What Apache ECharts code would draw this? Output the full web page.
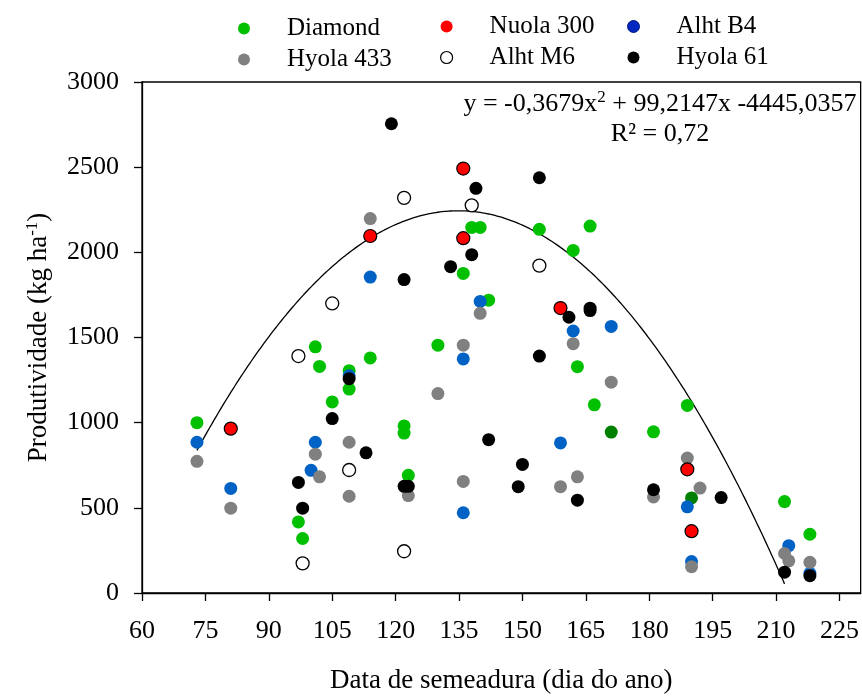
<!DOCTYPE html>
<html>
<head>
<meta charset="utf-8">
<script src="https://cdn.jsdelivr.net/npm/echarts@6/dist/echarts.min.js"></script>
<style>
  html, body { margin: 0; padding: 0; background: #fff; }
  #chart { width: 862px; height: 699px; }
</style>
</head>
<body>
<div id="chart"></div>
<script>
// Sowing date (day of year) vs. grain yield (kg/ha), one list of [day, yield] per cultivar
const diamond = [
  [73, 1000], [97, 417], [98, 320], [101, 1445], [102, 1330], [105, 1122],
  [109, 1305], [109, 1197], [114, 1380], [122, 981], [122, 939], [123, 691],
  [130, 1455], [136, 1876], [138, 2146], [140, 2146], [142, 1719], [154, 2135],
  [162, 2011], [163, 1329], [166, 2154], [167, 1105], [181, 946], [189, 1101],
  [212, 537], [218, 345]
];
// Diamond points printed in a darker green
const diamondDarkShade = [[171, 945], [190, 558]];
const nuola300 = [
  [81, 965], [114, 2096], [136, 2492], [136, 2083], [159, 1673], [189, 726], [190, 363]
];
const alhtB4 = [
  [73, 885], [81, 614], [100, 720], [101, 885], [109, 1275], [114, 1855],
  [136, 1374], [136, 471], [140, 1712], [159, 881], [162, 1538], [171, 1565],
  [189, 506], [190, 185], [213, 278], [218, 116]
];
const hyola433 = [
  [73, 773], [81, 498], [101, 815], [102, 682], [109, 885], [109, 568],
  [114, 2198], [123, 572], [130, 1171], [136, 1455], [136, 655], [140, 1642],
  [159, 624], [162, 1464], [163, 682], [171, 1238], [181, 564], [189, 792],
  [190, 154], [192, 616], [212, 232], [213, 189], [218, 180]
];
const alhtM6 = [
  [97, 1391], [98, 174], [105, 1700], [109, 722], [122, 2320], [122, 245],
  [138, 2276], [154, 1922]
];
const hyola61 = [
  [97, 649], [98, 498], [105, 1024], [109, 1258], [113, 823], [119, 2755],
  [122, 1840], [122, 626], [123, 626], [133, 1916], [138, 1986], [139, 2376],
  [142, 900], [149, 624], [150, 755], [154, 2438], [154, 1391], [161, 1619],
  [163, 545], [166, 1672], [166, 1658], [181, 606], [197, 560], [212, 122],
  [218, 102]
];

// Fitted quadratic: y = a*x^2 + b*x + c, drawn over the fitted range
const fitCoefficients = [-0.3679, 99.2147, -4445.0357];
const fitRange = [73, 212];

// Axis ticks
const xTicks = [60, 75, 90, 105, 120, 135, 150, 165, 180, 195, 210, 225];
const yTicks = [0, 500, 1000, 1500, 2000, 2500, 3000];

const FONT = '"Liberation Serif", "Times New Roman", serif';

const fitLine = [];
for (let x = fitRange[0]; x <= fitRange[1] + 1e-9; x += 0.5) {
  const [a, b, c] = fitCoefficients;
  fitLine.push([x, a * x * x + b * x + c]);
}

const MARK = 13;
function scatter(name, data, style) {
  return {
    type: 'scatter', name, data, symbol: 'circle', symbolSize: MARK,
    itemStyle: Object.assign({ opacity: 1 }, style), emphasis: { disabled: true }
  };
}

function legendBlock(left, top, items) {
  return {
    orient: 'vertical', left, top, padding: 0, itemGap: 6,
    itemWidth: 12, itemHeight: 12, icon: 'circle',
    selectedMode: false,
    textStyle: { fontFamily: FONT, fontSize: 25, color: '#000', padding: [0, 0, 0, 32] },
    data: items
  };
}

const chart = echarts.init(document.getElementById('chart'), null, { renderer: 'canvas' });

chart.setOption({
  animation: false,
  backgroundColor: '#fff',
  textStyle: { fontFamily: FONT },
  grid: {
    left: 142, right: 1, top: 82, bottom: 100,
    show: true, borderColor: '#000', borderWidth: 1.3, backgroundColor: 'transparent'
  },
  legend: [
    legendBlock(238, 16, [
      { name: 'Diamond', itemStyle: { color: '#00c000', borderWidth: 0, opacity: 1 } },
      { name: 'Hyola 433', itemStyle: { color: '#808080', borderWidth: 0, opacity: 1 } }
    ]),
    legendBlock(440, 14, [
      { name: 'Nuola 300', itemStyle: { color: '#ff0000', borderWidth: 0, opacity: 1 } },
      { name: 'Alht M6', itemStyle: { color: '#fff', borderColor: '#000', borderWidth: 1.2, opacity: 1 } }
    ]),
    legendBlock(627, 14, [
      { name: 'Alht B4', itemStyle: { color: '#0028c0', borderColor: '#001a80', borderWidth: 1, opacity: 1 } },
      { name: 'Hyola 61', itemStyle: { color: '#000', borderWidth: 0, opacity: 1 } }
    ])
  ],
  xAxis: {
    type: 'value', min: 60, max: 230, interval: 15,
    name: 'Data de semeadura (dia do ano)',
    nameLocation: 'middle', nameGap: 74,
    nameTextStyle: { fontFamily: FONT, fontSize: 27, color: '#000' },
    axisLine: { show: true, onZero: false, lineStyle: { color: '#000', width: 1.3 } },
    axisTick: { show: true, length: 8, inside: false, customValues: xTicks, lineStyle: { color: '#000', width: 1.3 } },
    axisLabel: { customValues: xTicks, margin: 25, fontFamily: FONT, fontSize: 26, color: '#000', formatter: (v) => String(v) },
    splitLine: { show: false }
  },
  yAxis: {
    type: 'value', min: 0, max: 3000, interval: 500,
    name: 'Produtividade (kg ha{sup|-1})',
    nameLocation: 'middle', nameRotate: 90, nameGap: 88,
    nameTextStyle: {
      fontFamily: FONT, fontSize: 27, color: '#000', lineHeight: 30,
      rich: { sup: { fontFamily: FONT, fontSize: 17, color: '#000', verticalAlign: 'top', lineHeight: 12 } }
    },
    axisLine: { show: true, onZero: false, lineStyle: { color: '#000', width: 1.3 } },
    axisTick: { show: true, length: 8, inside: false, customValues: yTicks, lineStyle: { color: '#000', width: 1.3 } },
    axisLabel: { customValues: yTicks, margin: 23, fontFamily: FONT, fontSize: 26, color: '#000', formatter: (v) => String(v) },
    splitLine: { show: false }
  },
  graphic: [
    {
      type: 'text', x: 660, y: 104, z: 10,
      style: {
        align: 'center', verticalAlign: 'middle',
        text: 'y = -0,3679x{sup|2} + 99,2147x -4445,0357',
        fontFamily: FONT, fontSize: 26, fill: '#000', lineHeight: 30,
        rich: { sup: { fontFamily: FONT, fontSize: 17, fill: '#000', verticalAlign: 'top', lineHeight: 12 } }
      }
    },
    {
      type: 'text', x: 660, y: 134, z: 10,
      style: {
        align: 'center', verticalAlign: 'middle',
        text: 'R² = 0,72', fontFamily: FONT, fontSize: 26, fill: '#000'
      }
    }
  ],
  series: [
    {
      type: 'line', name: 'Ajuste', data: fitLine, showSymbol: false, symbol: 'none',
      lineStyle: { color: '#000', width: 1.3 }, silent: true, z: 1
    },
    scatter('Diamond', diamondDarkShade, { color: '#008000' }),
    scatter('Diamond', diamond, { color: '#00c000' }),
    scatter('Alht B4', alhtB4, { color: '#0062c4' }),
    scatter('Hyola 433', hyola433, { color: '#808080' }),
    scatter('Nuola 300', nuola300, { color: '#ff0000', borderColor: '#000', borderWidth: 1.2 }),
    scatter('Alht M6', alhtM6, { color: '#fff', borderColor: '#000', borderWidth: 1.3 }),
    scatter('Hyola 61', hyola61, { color: '#000' })
  ]
});
</script>
</body>
</html>
